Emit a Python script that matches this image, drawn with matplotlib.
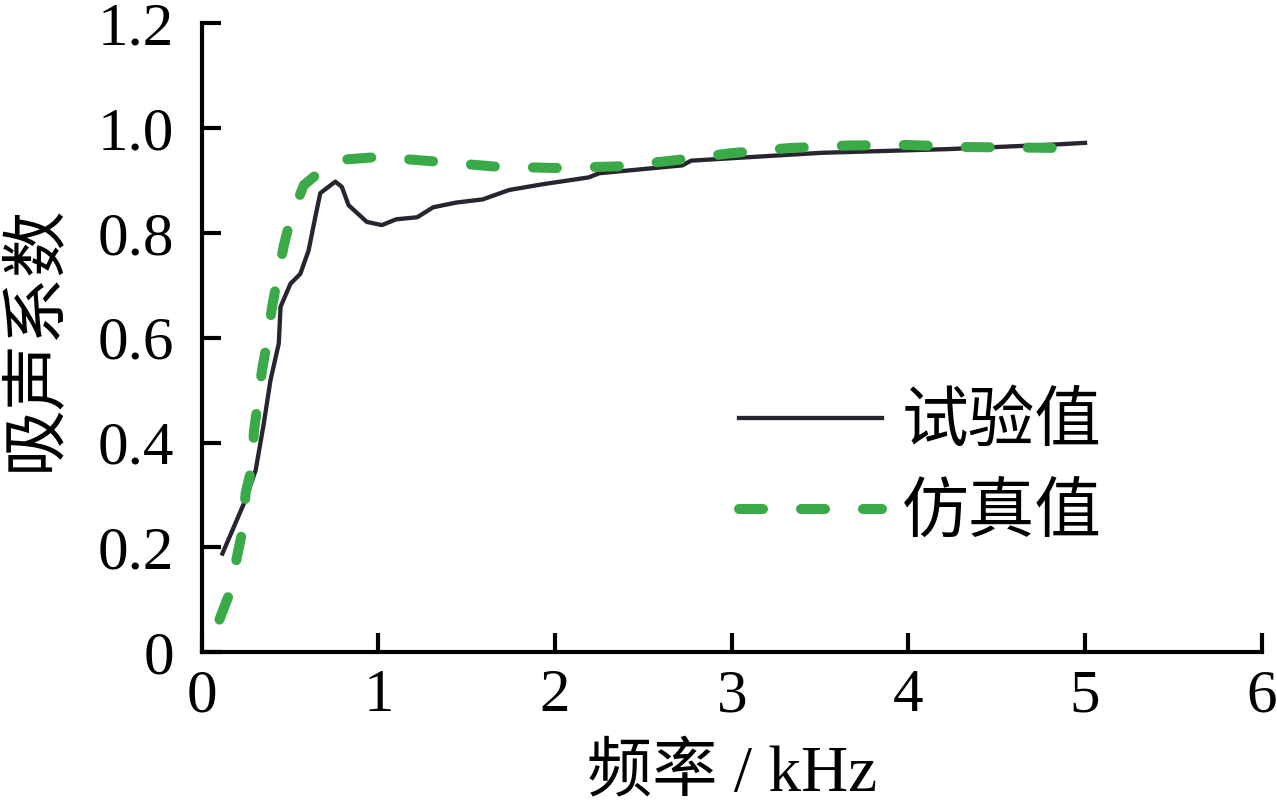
import numpy as np
import matplotlib
matplotlib.use("Agg")
import matplotlib.pyplot as plt

plt.rcParams['font.family'] = ['Liberation Serif', 'Noto Sans CJK SC']
plt.rcParams['axes.unicode_minus'] = False

# measured absorption coefficient (试验值)
freq_test = [0.117, 0.239, 0.305, 0.351, 0.389, 0.436, 0.446, 0.502, 0.558, 0.605,
             0.643, 0.671, 0.756, 0.793, 0.831, 0.86, 0.935, 1.02, 1.10, 1.22,
             1.31, 1.44, 1.59, 1.74, 1.93, 2.19, 2.25, 2.72, 2.77, 3.51, 4.22, 4.84, 5.0]
alpha_test = [0.188, 0.284, 0.347, 0.436, 0.519, 0.589, 0.659, 0.703, 0.722, 0.767,
              0.831, 0.876, 0.898, 0.888, 0.853, 0.844, 0.821, 0.815, 0.826, 0.830,
              0.849, 0.858, 0.864, 0.882, 0.893, 0.906, 0.914, 0.929, 0.938, 0.953, 0.960, 0.969, 0.972]

# simulated absorption coefficient (仿真值)
freq_sim = [0.10, 0.164, 0.201, 0.235, 0.248, 0.286, 0.295, 0.341, 0.370, 0.398,
            0.426, 0.465, 0.502, 0.577, 0.69, 0.80, 1.0, 1.3, 1.65, 2.0,
            2.35, 2.66, 2.99, 3.32, 3.66, 3.99, 4.33, 4.66, 4.9]
alpha_sim = [0.062, 0.118, 0.185, 0.239, 0.303, 0.357, 0.420, 0.538, 0.592, 0.659,
             0.710, 0.777, 0.826, 0.891, 0.923, 0.940, 0.945, 0.937, 0.927, 0.924,
             0.927, 0.938, 0.952, 0.962, 0.967, 0.968, 0.964, 0.963, 0.962]

xticks = [0, 1, 2, 3, 4, 5, 6]
yticks = [0, 0.2, 0.4, 0.6, 0.8, 1.0, 1.2]
ytick_labels = ['0', '0.2', '0.4', '0.6', '0.8', '1.0', '1.2']

fig = plt.figure(figsize=(12.77, 8.07), dpi=100)
ax = fig.add_axes([0.158, 0.192, 0.830, 0.779])

ax.plot(freq_test, alpha_test, color='#2a2430', lw=3.1, label='试验值')
ax.plot(freq_sim, alpha_sim, color='#3aaa48', lw=7.2, dashes=(2.4, 3.8),
        dash_capstyle='round', label='仿真值')

ax.set_xlim(0, 6)
ax.set_ylim(0, 1.2)
ax.set_xticks(xticks)
ax.set_yticks(yticks)
ax.set_yticklabels(ytick_labels)
for s in ['top', 'right']:
    ax.spines[s].set_visible(False)
for s in ['left', 'bottom']:
    ax.spines[s].set_linewidth(3)
ax.tick_params(direction='in', length=14, width=3, labelsize=44)
ax.tick_params(axis='x', pad=12)
ax.tick_params(axis='y', pad=20)

ax.set_xlabel('频率 / kHz', fontsize=47, labelpad=14)
ax.set_ylabel('吸声系数', fontsize=48, labelpad=22)

leg = ax.legend(loc='center left', bbox_to_anchor=(0.45, 0.29), frameon=False,
                fontsize=48, handlelength=2.15, handletextpad=0.3, labelspacing=0.45)

fig.savefig('out.png', dpi=100)
